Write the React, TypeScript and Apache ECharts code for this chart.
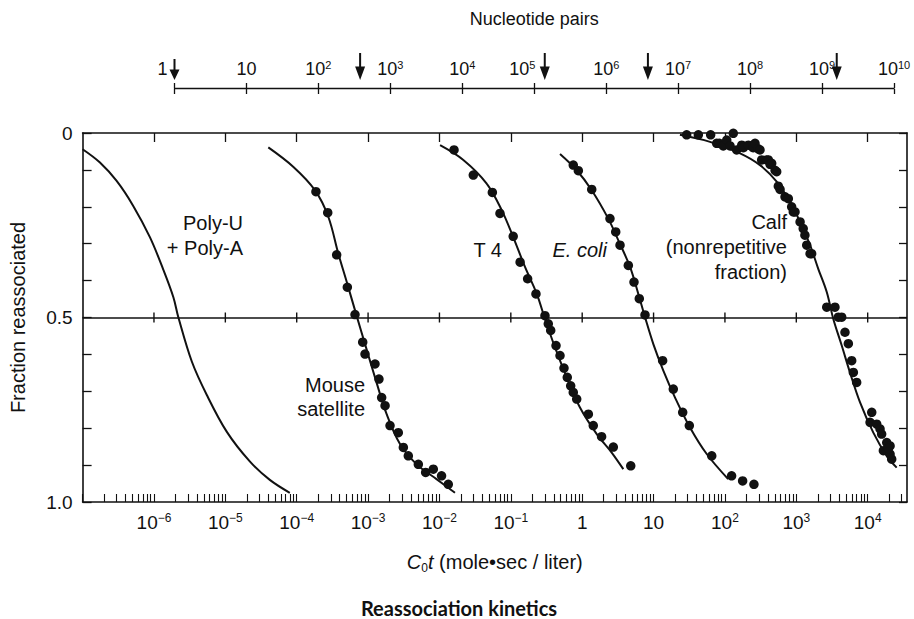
import React, { useEffect, useRef } from "react";
import * as echarts from "echarts";

// ---------- axis tick labels ----------
// exponents of C0t (mole·sec/liter) that carry a label on the bottom axis
const cotLabelExponents = [-6, -5, -4, -3, -2, -1, 0, 1, 2, 3, 4];
// exponents of nucleotide pairs on the top axis
const npLabelExponents = [0, 1, 2, 3, 4, 5, 6, 7, 8, 9, 10];
// genome sizes (nucleotide pairs) marked with arrows on the top axis
const genomeNucleotidePairs = [1, 380, 1.4e5, 3.8e6, 1.6e9];

// ---------- Poly-U + Poly-A (curve only) ----------
const polyCurveCot = [1.0e-7, 1.75e-7, 3.0e-7, 5.1e-7, 8.8e-7, 1.35e-6, 1.87e-6, 2.2e-6, 3.4e-6, 5.5e-6, 1.05e-5, 2.2e-5, 4.2e-5, 8.0e-5];
const polyCurveFrac = [0.044, 0.08, 0.13, 0.197, 0.283, 0.37, 0.445, 0.5, 0.62, 0.71, 0.81, 0.89, 0.94, 0.975];

// ---------- Mouse satellite ----------
const mouseCurveCot = [4.0e-5, 9.0e-5, 1.8e-4, 2.77e-4, 3.83e-4, 5.1e-4, 6.9e-4, 9.35e-4, 1.29e-3, 1.82e-3, 2.8e-3, 4.8e-3, 9.1e-3, 1.65e-2];
const mouseCurveFrac = [0.039, 0.092, 0.155, 0.227, 0.327, 0.408, 0.495, 0.581, 0.671, 0.762, 0.843, 0.898, 0.938, 0.975];
const mouseDotsCot = [1.86e-4, 2.72e-4, 3.63e-4, 5.12e-4, 6.56e-4, 8.41e-4, 9.06e-4, 1.25e-3, 1.42e-3, 1.55e-3, 1.73e-3, 2.03e-3, 2.65e-3, 3.12e-3, 3.66e-3, 5.06e-3, 6.41e-3, 8.2e-3, 1.07e-2, 1.33e-2];
const mouseDotsFrac = [0.159, 0.216, 0.33, 0.418, 0.492, 0.567, 0.599, 0.626, 0.667, 0.717, 0.739, 0.793, 0.812, 0.852, 0.875, 0.898, 0.92, 0.911, 0.929, 0.952];

// ---------- T4 ----------
const t4CurveCot = [1.02e-2, 2.16e-2, 4.59e-2, 7.45e-2, 0.108, 0.158, 0.231, 0.301, 0.416, 0.607, 0.931, 1.6, 2.59, 3.77];
const t4CurveFrac = [0.033, 0.073, 0.137, 0.209, 0.282, 0.363, 0.436, 0.504, 0.581, 0.662, 0.744, 0.816, 0.866, 0.911];
const t4DotsCot = [1.6e-2, 2.98e-2, 5.51e-2, 7.05e-2, 0.108, 0.135, 0.172, 0.225, 0.301, 0.335, 0.362, 0.43, 0.489, 0.556, 0.618, 0.69, 0.75, 0.838, 1.22, 1.43, 1.87, 2.73, 4.79];
const t4DotsFrac = [0.046, 0.114, 0.161, 0.218, 0.28, 0.35, 0.395, 0.436, 0.495, 0.517, 0.535, 0.576, 0.603, 0.637, 0.662, 0.685, 0.703, 0.721, 0.762, 0.793, 0.823, 0.851, 0.902];

// ---------- E. coli ----------
const ecoliCurveCot = [0.489, 0.838, 1.36, 2.32, 3.21, 4.68, 6.11, 7.59, 9.93, 13.7, 20.0, 32.4, 55.6, 111];
const ecoliCurveFrac = [0.057, 0.101, 0.155, 0.232, 0.291, 0.363, 0.436, 0.499, 0.572, 0.644, 0.717, 0.798, 0.87, 0.938];
const ecoliDotsCot = [0.75, 0.883, 1.36, 2.45, 2.95, 3.39, 4.43, 5.32, 6.31, 7.59, 13.4, 18.9, 25.6, 31.7, 65.3, 124, 177, 255];
const ecoliDotsFrac = [0.087, 0.102, 0.153, 0.232, 0.268, 0.304, 0.359, 0.404, 0.449, 0.493, 0.617, 0.694, 0.757, 0.793, 0.875, 0.929, 0.943, 0.952];

// ---------- Calf (nonrepetitive fraction) ----------
const calfCurveCot = [23.4, 61.8, 163, 310, 531, 817, 1130, 1560, 2030, 2670, 3300, 4330, 5650, 7820, 12000, 18500, 25500];
const calfCurveFrac = [0.005, 0.024, 0.055, 0.087, 0.132, 0.187, 0.241, 0.304, 0.368, 0.431, 0.504, 0.576, 0.649, 0.73, 0.812, 0.875, 0.907];
const calfDotsCot = [29.1, 42.4, 63.1, 76.6, 83.4, 94.8, 106, 131, 118, 146, 172, 181, 213, 249, 264, 293, 310, 327, 385, 406, 429, 452, 504, 531, 560, 592, 695, 773, 861, 908, 959, 1130, 1250, 1320, 1400, 1560, 1640, 2670, 3480, 3880, 4330, 4810, 5360, 5970, 6300, 7010, 11400, 10800, 13400, 14900, 15700, 18500, 20600, 16600, 20600, 21700, 19500];
const calfDotsFrac = [0.005, 0.005, 0.005, 0.028, 0.028, 0.035, 0.019, 0.001, 0.035, 0.046, 0.033, 0.04, 0.033, 0.04, 0.028, 0.043, 0.046, 0.073, 0.073, 0.073, 0.085, 0.082, 0.101, 0.105, 0.144, 0.153, 0.173, 0.178, 0.2, 0.214, 0.214, 0.241, 0.259, 0.277, 0.304, 0.327, 0.327, 0.472, 0.472, 0.499, 0.499, 0.54, 0.571, 0.617, 0.649, 0.676, 0.757, 0.784, 0.789, 0.802, 0.816, 0.839, 0.848, 0.861, 0.87, 0.884, 0.855];

// ---------- styling ----------
const INK = "#111111";
const FONT = "'Liberation Sans', Arial, Helvetica, sans-serif";
const COT_MIN_EXP = -7;
const COT_MAX_EXP = 4.551;

const pts = (xs: number[], ys: number[]) => xs.map((x, i) => [Math.log10(x), ys[i]]);

function powLabel(exp: number, extraGap: boolean): string {
  let s: string;
  if (exp === 0) s = "{b|1}";
  else if (exp === 1) s = "{b|10}";
  else s = "{b|10}{s|" + (exp < 0 ? "\u2212" + -exp : String(exp)) + "}";
  return extraGap ? s + "{gap| }" : s;
}

const ARROW = "path://M4,0 L6,0 L6,13 L10,13 L5,26 L0,13 L4,13 Z";

export default function App() {
  const ref = useRef<HTMLDivElement | null>(null);

  useEffect(() => {
    if (!ref.current) return;
    const chart = echarts.init(ref.current, undefined, { renderer: "svg" });

    const minorTickValues: number[] = [];
    for (let k = COT_MIN_EXP; k <= 4; k++) {
      for (let m = 1; m <= 9; m++) {
        const v = k + Math.log10(m);
        if (v >= COT_MIN_EXP - 1e-9 && v <= COT_MAX_EXP) minorTickValues.push(v);
      }
    }

    const curve = (data: number[][]) => ({
      type: "line",
      xAxisIndex: 0,
      yAxisIndex: 0,
      data,
      showSymbol: false,
      smooth: 0.35,
      silent: true,
      lineStyle: { color: INK, width: 2 },
      z: 3,
    });
    const dots = (data: number[][]) => ({
      type: "scatter",
      xAxisIndex: 0,
      yAxisIndex: 0,
      data,
      symbol: "circle",
      symbolSize: 9.5,
      silent: true,
      itemStyle: { color: INK, opacity: 1 },
      z: 4,
    });

    const labelRichBottom = {
      b: { fontSize: 19, fontFamily: FONT, color: INK, lineHeight: 21 },
      s: { fontSize: 12, fontFamily: FONT, color: INK, lineHeight: 13, verticalAlign: "top" },
    };
    const labelRichTop = {
      b: { fontSize: 18, fontFamily: FONT, color: INK, lineHeight: 20 },
      s: { fontSize: 11, fontFamily: FONT, color: INK, lineHeight: 12, verticalAlign: "top" },
      gap: { width: 24, fontSize: 10 },
    };

    const option: any = {
      animation: false,
      backgroundColor: "#ffffff",
      textStyle: { fontFamily: FONT, color: INK },
      grid: [
        { left: 82.6, top: 133, width: 824.4, height: 369, containLabel: false, outerBoundsMode: "none" },
        { left: 174.5, top: 88, width: 719.5, height: 1, containLabel: false, outerBoundsMode: "none" },
      ],
      xAxis: [
        {
          gridIndex: 0,
          type: "value",
          position: "bottom",
          min: COT_MIN_EXP,
          max: COT_MAX_EXP,
          axisLine: { show: true, onZero: false, lineStyle: { color: INK, width: 1.6 } },
          axisTick: { show: true, inside: true, length: 8, customValues: minorTickValues, lineStyle: { color: INK, width: 1.1 } },
          axisLabel: {
            show: true,
            customValues: cotLabelExponents,
            formatter: (v: number) => powLabel(Math.round(v), false),
            margin: 10,
            color: INK,
            fontSize: 19,
            fontFamily: FONT,
            rich: labelRichBottom,
          },
          splitLine: { show: false },
          name: "{i|C}{sub|0}{i|t} (mole\u2022sec / liter)",
          nameLocation: "middle",
          nameGap: 48,
          nameTextStyle: {
            fontSize: 20,
            fontFamily: FONT,
            color: INK,
            lineHeight: 24,
            rich: {
              i: { fontStyle: "italic", fontSize: 20, fontFamily: FONT, color: INK, lineHeight: 24 },
              sub: { fontSize: 12, fontFamily: FONT, color: INK, lineHeight: 13, verticalAlign: "bottom" },
            },
          },
        },
        {
          gridIndex: 0,
          type: "value",
          position: "top",
          min: COT_MIN_EXP,
          max: COT_MAX_EXP,
          axisLine: { show: true, onZero: false, lineStyle: { color: INK, width: 1.6 } },
          axisTick: { show: true, inside: true, length: 9, customValues: cotLabelExponents, lineStyle: { color: INK, width: 1.3 } },
          axisLabel: { show: false },
          splitLine: { show: false },
        },
        {
          gridIndex: 1,
          type: "value",
          position: "top",
          min: 0,
          max: 10,
          interval: 1,
          axisLine: { show: true, onZero: false, lineStyle: { color: INK, width: 1.4 } },
          axisTick: { show: true, inside: false, length: 5, lineStyle: { color: INK, width: 1.3 } },
          axisLabel: {
            show: true,
            customValues: npLabelExponents,
            formatter: (v: number) => {
              const e = Math.round(v);
              return powLabel(e, e === 0 || e === 5);
            },
            margin: 9,
            color: INK,
            fontSize: 18,
            fontFamily: FONT,
            rich: labelRichTop,
          },
          splitLine: { show: false },
          name: "Nucleotide pairs",
          nameLocation: "middle",
          nameGap: 60,
          nameTextStyle: { fontSize: 18, fontFamily: FONT, color: INK },
        },
        {
          gridIndex: 1,
          type: "value",
          position: "bottom",
          min: 0,
          max: 10,
          interval: 1,
          axisLine: { show: false, onZero: false },
          axisTick: { show: true, inside: false, length: 5, lineStyle: { color: INK, width: 1.3 } },
          axisLabel: { show: false },
          splitLine: { show: false },
        },
      ],
      yAxis: [
        {
          gridIndex: 0,
          type: "value",
          position: "left",
          inverse: true,
          min: 0,
          max: 1,
          interval: 0.1,
          axisLine: { show: true, onZero: false, lineStyle: { color: INK, width: 1.6 } },
          axisTick: { show: true, inside: true, length: 9, lineStyle: { color: INK, width: 1.3 } },
          axisLabel: {
            show: true,
            margin: 10,
            color: INK,
            fontSize: 19,
            fontFamily: FONT,
            formatter: (v: number) => {
              if (Math.abs(v) < 1e-6) return "0";
              if (Math.abs(v - 0.5) < 1e-6) return "0.5";
              if (Math.abs(v - 1) < 1e-6) return "1.0";
              return "";
            },
          },
          splitLine: { show: false },
          name: "Fraction reassociated",
          nameLocation: "middle",
          nameGap: 55,
          nameRotate: 90,
          nameTextStyle: { fontSize: 20, fontFamily: FONT, color: INK },
        },
        {
          gridIndex: 0,
          type: "value",
          position: "right",
          inverse: true,
          min: 0,
          max: 1,
          interval: 0.1,
          axisLine: { show: true, onZero: false, lineStyle: { color: INK, width: 1.6 } },
          axisTick: { show: true, inside: true, length: 8, lineStyle: { color: INK, width: 1.3 } },
          axisLabel: { show: false },
          splitLine: { show: false },
        },
        { gridIndex: 1, type: "value", min: 0, max: 1, show: false },
      ],
      series: [
        curve(pts(polyCurveCot, polyCurveFrac)),
        curve(pts(mouseCurveCot, mouseCurveFrac)),
        dots(pts(mouseDotsCot, mouseDotsFrac)),
        curve(pts(t4CurveCot, t4CurveFrac)),
        dots(pts(t4DotsCot, t4DotsFrac)),
        curve(pts(ecoliCurveCot, ecoliCurveFrac)),
        dots(pts(ecoliDotsCot, ecoliDotsFrac)),
        curve(pts(calfCurveCot, calfCurveFrac)),
        dots(pts(calfDotsCot, calfDotsFrac)),
        {
          // half-reassociation line with crossing decade ticks
          type: "scatter",
          xAxisIndex: 0,
          yAxisIndex: 0,
          data: cotLabelExponents.map((e) => [e, 0.5]),
          symbol: "rect",
          symbolSize: [1.4, 10],
          silent: true,
          itemStyle: { color: INK, opacity: 1 },
          z: 2,
          markLine: {
            silent: true,
            symbol: "none",
            label: { show: false },
            lineStyle: { color: INK, width: 1.6, type: "solid", opacity: 1 },
            data: [{ yAxis: 0.5 }],
          },
        },
        {
          // genome-size arrows above the nucleotide-pair axis
          type: "scatter",
          xAxisIndex: 2,
          yAxisIndex: 2,
          silent: true,
          symbol: ARROW,
          itemStyle: { color: INK, opacity: 1 },
          data: genomeNucleotidePairs.map((n, i) =>
            i === 0
              ? { value: [Math.log10(n), 1], symbolSize: [10, 21], symbolOffset: [0, -18.5] }
              : { value: [Math.log10(n), 1], symbolSize: [10, 27], symbolOffset: [0, -21.5] }
          ),
        },
      ],
      graphic: [
        {
          type: "text",
          x: 243,
          y: 235.5,
          silent: true,
          style: { text: "Poly-U\n+ Poly-A", font: "20px " + FONT, fill: INK, align: "right", verticalAlign: "middle", textAlign: "right", textVerticalAlign: "middle", lineHeight: 25 },
        },
        {
          type: "text",
          x: 365,
          y: 397,
          silent: true,
          style: { text: "Mouse\nsatellite", font: "20px " + FONT, fill: INK, align: "right", verticalAlign: "middle", textAlign: "right", textVerticalAlign: "middle", lineHeight: 24 },
        },
        {
          type: "text",
          x: 502,
          y: 250,
          silent: true,
          style: { text: "T 4", font: "20px " + FONT, fill: INK, align: "right", verticalAlign: "middle", textAlign: "right", textVerticalAlign: "middle" },
        },
        {
          type: "text",
          x: 607,
          y: 250,
          silent: true,
          style: { text: "E. coli", font: "italic 20px " + FONT, fill: INK, align: "right", verticalAlign: "middle", textAlign: "right", textVerticalAlign: "middle" },
        },
        {
          type: "text",
          x: 787,
          y: 246.7,
          silent: true,
          style: { text: "Calf\n(nonrepetitive\nfraction)", font: "20px " + FONT, fill: INK, align: "right", verticalAlign: "middle", textAlign: "right", textVerticalAlign: "middle", lineHeight: 25 },
        },
        {
          type: "text",
          x: 459,
          y: 608,
          silent: true,
          style: { text: "Reassociation kinetics", font: "bold 20px Lato, 'Open Sans', sans-serif", fill: INK, align: "center", verticalAlign: "middle", textAlign: "center", textVerticalAlign: "middle" },
        },
      ],
    };

    chart.setOption(option);
    return () => chart.dispose();
  }, []);

  return (
    <div
      ref={ref}
      style={{ position: "fixed", left: 0, top: 0, width: 914, height: 619, background: "#ffffff" }}
    />
  );
}
